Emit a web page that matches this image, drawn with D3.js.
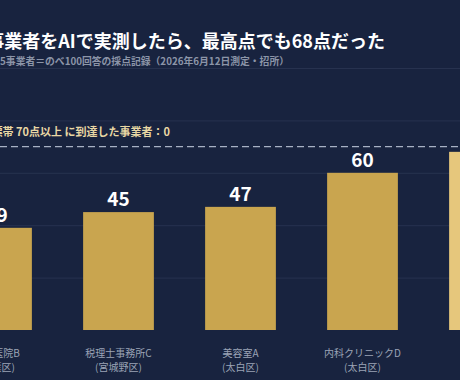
<!DOCTYPE html>
<html>
<head>
<meta charset="utf-8">
<script src="https://cdn.jsdelivr.net/npm/d3@7"></script>
<style>
  html, body { margin: 0; padding: 0; background: #18233f; }
  svg { display: block; font-family: "Noto Sans CJK JP", "Noto Sans", sans-serif; }
</style>
</head>
<body>
<div id="chart"></div>
<script>
const names = ["歯科医院B", "税理士事務所C", "美容室A", "内科クリニックD", "整体院E"];
const wards = ["(青葉区)", "(宮城野区)", "(太白区)", "(太白区)", "(泉区)"];
const scores = [39, 45, 47, 60, 68];
const gridTicks = [20, 40, 60, 80, 100];
const target = 70;
const targetReached = 0;

const width = 460;
const height = 380;

const svg = d3.select("#chart")
  .append("svg")
  .attr("width", width)
  .attr("height", height);

svg.append("rect")
  .attr("width", width)
  .attr("height", height)
  .attr("fill", "#18233f");

// the plot runs wider than the window on both sides
const xScale = d3.scaleBand()
  .domain(names)
  .range([-64.5, 545.5])
  .paddingInner(0.42)
  .paddingOuter(0.21);

const yScale = d3.scaleLinear()
  .domain([0, 100])
  .range([330, 68]);

const yAxis = d3.axisLeft(yScale)
  .tickValues(gridTicks)
  .tickSize(-width)
  .tickFormat("");

svg.append("g")
  .attr("class", "grid")
  .call(yAxis)
  .call(g => g.select(".domain").remove())
  .call(g => g.selectAll("line").attr("stroke", "#27324f").attr("stroke-width", 1));

// title block
svg.append("text")
  .attr("x", 385)
  .attr("y", 48)
  .attr("text-anchor", "end")
  .attr("fill", "#ffffff")
  .attr("font-size", 18)
  .attr("font-weight", 700)
  .text("仙台の5事業者をAIで実測したら、最高点でも68点だった");

svg.append("text")
  .attr("x", 289)
  .attr("y", 65)
  .attr("text-anchor", "end")
  .attr("fill", "#8c95a8")
  .attr("font-size", 9.8)
  .attr("font-weight", 700)
  .text("仙台の5事業者＝のべ100回答の採点記録（2026年6月12日測定・招所）");

// target line
svg.append("line")
  .attr("x1", 0)
  .attr("x2", width)
  .attr("y1", yScale(target))
  .attr("y2", yScale(target))
  .attr("stroke", "#a7b1c4")
  .attr("stroke-width", 1.2)
  .attr("stroke-dasharray", "7,4");

svg.append("text")
  .attr("x", 170)
  .attr("y", yScale(target) - 11)
  .attr("text-anchor", "end")
  .attr("fill", "#e8d7a4")
  .attr("font-size", 11)
  .attr("font-weight", 700)
  .text(`目標帯 ${target}点以上 に到達した事業者：${targetReached}`);

// bars
const data = names.map((n, i) => ({ name: n, ward: wards[i], score: scores[i] }));
const best = d3.max(scores);

svg.selectAll(".bar")
  .data(data)
  .enter()
  .append("rect")
  .attr("class", "bar")
  .attr("x", d => xScale(d.name))
  .attr("y", d => yScale(d.score))
  .attr("width", xScale.bandwidth())
  .attr("height", d => yScale(0) - yScale(d.score))
  .attr("fill", d => d.score === best ? "#e6c77c" : "#c9a54f");

svg.selectAll(".value")
  .data(data)
  .enter()
  .append("text")
  .attr("class", "value")
  .attr("x", d => xScale(d.name) + xScale.bandwidth() / 2)
  .attr("y", d => yScale(d.score) - 6)
  .attr("text-anchor", "middle")
  .attr("fill", "#ffffff")
  .attr("font-size", 19)
  .attr("font-weight", 700)
  .text(d => d.score);

const labels = svg.selectAll(".label")
  .data(data)
  .enter()
  .append("text")
  .attr("class", "label")
  .attr("text-anchor", "middle")
  .attr("fill", "#9ba3b6")
  .attr("font-size", 10);

labels.append("tspan")
  .attr("x", d => xScale(d.name) + xScale.bandwidth() / 2)
  .attr("y", 357)
  .text(d => d.name);

labels.append("tspan")
  .attr("x", d => xScale(d.name) + xScale.bandwidth() / 2)
  .attr("y", 371)
  .text(d => d.ward);
</script>
</body>
</html>
